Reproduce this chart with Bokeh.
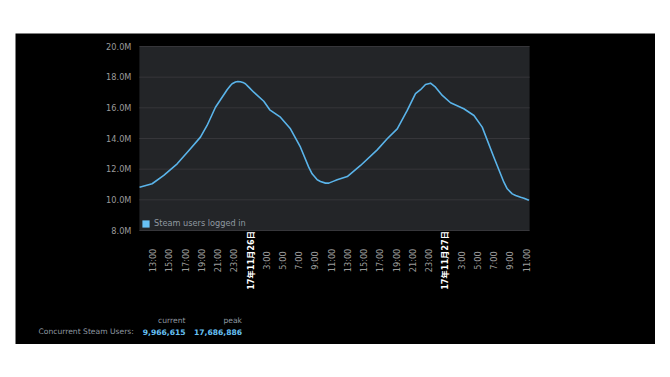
import math
import pandas as pd
from bokeh.plotting import figure
from bokeh.models import (ColumnDataSource, Label, Legend, LegendItem, Range1d)
from bokeh.core.properties import value
from bokeh.embed import file_html
from bokeh.resources import INLINE

# ---- data ----
times = [
    "2017-11-25 11:20", "2017-11-25 12:53", "2017-11-25 14:19", "2017-11-25 15:58",
    "2017-11-25 17:36", "2017-11-25 18:50", "2017-11-25 19:39", "2017-11-25 20:41",
    "2017-11-25 21:55", "2017-11-25 22:07", "2017-11-25 22:32", "2017-11-25 22:44",
    "2017-11-25 23:09", "2017-11-25 23:26", "2017-11-25 23:45", "2017-11-26 00:10",
    "2017-11-26 00:22", "2017-11-26 00:47", "2017-11-26 01:24", "2017-11-26 02:38",
    "2017-11-26 03:22", "2017-11-26 04:41", "2017-11-26 05:55", "2017-11-26 07:09",
    "2017-11-26 08:10", "2017-11-26 08:35", "2017-11-26 09:13", "2017-11-26 09:37",
    "2017-11-26 10:14", "2017-11-26 10:38", "2017-11-26 11:15", "2017-11-26 11:40",
    "2017-11-26 12:55", "2017-11-26 14:33", "2017-11-26 16:36", "2017-11-26 17:50",
    "2017-11-26 19:04", "2017-11-26 20:18", "2017-11-26 21:19", "2017-11-26 21:56",
    "2017-11-26 22:33", "2017-11-26 23:10", "2017-11-26 23:47", "2017-11-27 00:37",
    "2017-11-27 01:38", "2017-11-27 03:16", "2017-11-27 04:31", "2017-11-27 05:32",
    "2017-11-27 06:58", "2017-11-27 08:12", "2017-11-27 08:37", "2017-11-27 09:14",
    "2017-11-27 09:39", "2017-11-27 10:16", "2017-11-27 10:40", "2017-11-27 11:17",
]
users_m = [
    10.82, 11.05, 11.59, 12.35, 13.33, 14.09, 14.85, 16.04,
    17.02, 17.18, 17.46, 17.57, 17.68, 17.72, 17.70, 17.63,
    17.57, 17.35, 17.02, 16.43, 15.87, 15.39, 14.63, 13.43,
    12.13, 11.70, 11.31, 11.20, 11.09, 11.09, 11.22, 11.31,
    11.52, 12.24, 13.26, 13.98, 14.63, 15.83, 16.92, 17.18,
    17.52, 17.61, 17.35, 16.81, 16.33, 15.94, 15.50, 14.74,
    12.78, 11.15, 10.72, 10.39, 10.28, 10.17, 10.11, 9.97,
]
series_name = "Steam users logged in"

y_ticks = [8, 10, 12, 14, 16, 18, 20]
y_tick_labels = ["8.0M", "10.0M", "12.0M", "14.0M", "16.0M", "18.0M", "20.0M"]

x_tick_times = [
    "2017-11-25 13:00", "2017-11-25 15:00", "2017-11-25 17:00", "2017-11-25 19:00",
    "2017-11-25 21:00", "2017-11-25 23:00", "2017-11-26 01:00", "2017-11-26 03:00",
    "2017-11-26 05:00", "2017-11-26 07:00", "2017-11-26 09:00", "2017-11-26 11:00",
    "2017-11-26 13:00", "2017-11-26 15:00", "2017-11-26 17:00", "2017-11-26 19:00",
    "2017-11-26 21:00", "2017-11-26 23:00", "2017-11-27 01:00", "2017-11-27 03:00",
    "2017-11-27 05:00", "2017-11-27 07:00", "2017-11-27 09:00", "2017-11-27 11:00",
]
x_tick_labels = [
    "13:00", "15:00", "17:00", "19:00", "21:00", "23:00", "17年11月26日", "3:00",
    "5:00", "7:00", "9:00", "11:00", "13:00", "15:00", "17:00", "19:00",
    "21:00", "23:00", "17年11月27日", "3:00", "5:00", "7:00", "9:00", "11:00",
]
date_tick_labels = {"17年11月26日", "17年11月27日"}

summary_title = "Concurrent Steam Users:"
summary_cols = ["current", "peak"]
summary_vals = ["9,966,615", "17,686,886"]

x_start = "2017-11-25 11:19"
x_end = "2017-11-27 11:22"

# ---- styles / layout ----
FONT = "DejaVu Sans"
TICK_FONT = "DejaVu Sans, Noto Sans CJK JP"
BLUE = "#5ab4ea"
LEG_BLUE = "#67c1f5"
GREY = "#8f98a0"
TICK_GREY = "#9a9a9a"
PLOT_BG = "#232528"
GRID = "#36363a"

W, H = 640, 311
PL, PR, PT, PB = 124, 126, 13, 114          # plot-area insets in pixels
PW, PH = W - PL - PR, H - PT - PB

t0, t1 = pd.Timestamp(x_start), pd.Timestamp(x_end)
x_per_px = (t1 - t0) / PW
y_per_px = (y_ticks[-1] - y_ticks[0]) / PH
x_range = Range1d(t0 - PL * x_per_px, t1 + PR * x_per_px)
y_range = Range1d(y_ticks[0] - PB * y_per_px, y_ticks[-1] + PT * y_per_px)

p = figure(width=W, height=H, x_axis_type="datetime",
           output_backend="svg", toolbar_location=None,
           x_range=x_range, y_range=y_range, min_border=0,
           background_fill_color="black", border_fill_color="black",
           outline_line_color=None)
p.margin = (33, 0, 0, 15)
p.xaxis.visible = False
p.yaxis.visible = False
p.grid.visible = False

# plot area background
p.quad(left=[t0], right=[t1], bottom=[y_ticks[0]], top=[y_ticks[-1]],
       fill_color=PLOT_BG, line_color=None)

# horizontal grid lines
p.segment(x0=[t0] * len(y_ticks), x1=[t1] * len(y_ticks), y0=y_ticks, y1=y_ticks,
          line_color=GRID, line_width=1)

# y tick labels
p.text(x=[t0] * len(y_ticks), y=y_ticks, text=y_tick_labels, x_offset=-8,
       text_align="right", text_baseline="middle", text_font=value(FONT),
       text_font_size=value("8.2px"), text_color=TICK_GREY)

# series
src = ColumnDataSource(dict(t=pd.to_datetime(times), v=users_m))
line_r = p.line("t", "v", source=src, line_color=BLUE, line_width=1.6,
                line_join="round")
box_r = p.varea(x="t", y1="v", y2="v", source=src, fill_color=LEG_BLUE)

legend = Legend(items=[LegendItem(label=series_name, renderers=[box_r])],
                location=(PL, PB), margin=0, padding=2, spacing=0,
                glyph_width=9, glyph_height=9, label_height=9, label_standoff=4,
                background_fill_alpha=0, border_line_alpha=0,
                label_text_font=FONT, label_text_font_size="8.2px",
                label_text_color=GREY)
p.add_layout(legend)

# x tick labels (date ticks bold white)
tick_src = ColumnDataSource(dict(
    x=pd.to_datetime(x_tick_times),
    y=[y_ticks[0]] * len(x_tick_times),
    text=x_tick_labels,
    color=["#ffffff" if s in date_tick_labels else TICK_GREY for s in x_tick_labels],
    style=["bold" if s in date_tick_labels else "normal" for s in x_tick_labels],
))
p.text(x="x", y="y", text="text", source=tick_src, y_offset=30, angle=math.pi / 2,
       text_align="center", text_baseline="middle", text_font=value(TICK_FONT),
       text_font_size=value("8.2px"), text_color="color", text_font_style="style")

# summary block (screen units from bottom-left of canvas)
p.add_layout(Label(x=23, y=13, x_units="screen", y_units="screen", text=summary_title,
                   text_align="left", text_baseline="middle", text_font=FONT,
                   text_font_size="7.6px", text_color=GREY))
for xr, col, val in zip([170, 226.5], summary_cols, summary_vals):
    p.add_layout(Label(x=xr, y=24, x_units="screen", y_units="screen", text=col,
                       text_align="right", text_baseline="middle", text_font=FONT,
                       text_font_size="7.6px", text_color=GREY))
    p.add_layout(Label(x=xr, y=13, x_units="screen", y_units="screen", text=val,
                       text_align="right", text_baseline="middle", text_font=FONT,
                       text_font_size="7.6px", text_font_style="bold", text_color=LEG_BLUE))

open("out.html", "w").write(file_html(p, INLINE))
